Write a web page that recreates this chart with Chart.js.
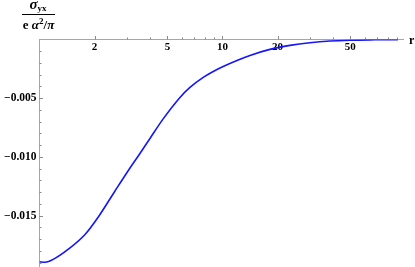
<!DOCTYPE html>
<html>
<head>
<meta charset="utf-8">
<script src="https://cdn.jsdelivr.net/npm/chart.js@4"></script>
<style>
  html, body { margin: 0; padding: 0; background: #fff; }
  #wrap { position: relative; width: 415px; height: 267px; overflow: hidden; }
  .lbl { position: absolute; font-family: "Liberation Serif", serif; font-weight: bold; color: #000; white-space: nowrap; line-height: 1; }
</style>
</head>
<body>
<div id="wrap">
  <canvas id="chart" width="415" height="267"></canvas>
  <div class="lbl" style="left:20px; top:-3px; width:36px; text-align:center; font-size:15px;"><i>σ</i><span style="font-size:9px; position:relative; top:2px;">yx</span></div>
  <div style="position:absolute; left:22px; top:14px; width:33px; height:1px; background:#000;"></div>
  <div class="lbl" style="left:19px; top:18px; width:39px; text-align:center; font-size:13px;">e <i>α</i><span style="font-size:9px; position:relative; top:-5px;">2</span>/<i>π</i></div>
  <div class="lbl" style="left:409px; top:34px; font-size:12px;">r</div>
</div>
<script>
// valeurs (r en échelle log)
const rValues = [1.0, 1.072, 1.215, 1.431, 1.773, 2.114, 2.586, 3.123, 3.541, 4.017, 4.731, 5.859, 6.643, 7.924, 9.331, 12.0, 14.14, 18.18, 23.38, 30.07, 38.68, 49.74, 68.1, 91.0];
const sigmaValues = [-0.018927, -0.018969, -0.018637, -0.017879, -0.016601, -0.015026, -0.012896, -0.010937, -0.009702, -0.008424, -0.006780, -0.004932, -0.004080, -0.003186, -0.002547, -0.001780, -0.001354, -0.000843, -0.000503, -0.000273, -0.000128, -0.000060, -0.000026, -0.000009];

const xMajorTicks = [2, 5, 10, 20, 50];
const xTickLabels = ['2', '5', '10', '20', '50'];
const xMinorTicks = [3, 4, 6, 7, 8, 9, 30, 40, 60, 70, 80, 90];

const yMajorTicks = [-0.015, -0.010, -0.005];
const yTickLabels = ['\u22120.015', '\u22120.010', '\u22120.005'];
const yMinorTicks = [-0.019, -0.018, -0.017, -0.016, -0.014, -0.013, -0.012, -0.011, -0.009, -0.008, -0.007, -0.006, -0.004, -0.003, -0.002, -0.001];

const xFont = { family: 'Liberation Serif', size: 11, weight: 'bold' };
const yFont = { family: 'Liberation Serif', size: 11.5, weight: 'bold' };

// petites graduations façon Mathematica
const tickMarks = {
  id: 'tickMarks',
  beforeDatasetsDraw(chart) {
    const { ctx, scales: { x, y } } = chart;
    const y0 = Math.round(y.getPixelForValue(0)) - 0.5;
    const x0 = Math.round(x.getPixelForValue(1)) - 0.5;
    ctx.save();
    ctx.strokeStyle = '#8a8a8a';
    ctx.lineWidth = 1;
    ctx.beginPath();
    xMajorTicks.forEach(v => {
      const px = Math.round(x.getPixelForValue(v)) + 0.5;
      ctx.moveTo(px, y0); ctx.lineTo(px, y0 - 3.5);
    });
    xMinorTicks.forEach(v => {
      const px = Math.round(x.getPixelForValue(v)) + 0.5;
      ctx.moveTo(px, y0); ctx.lineTo(px, y0 - 2);
    });
    yMajorTicks.forEach(v => {
      const py = Math.round(y.getPixelForValue(v)) + 0.5;
      ctx.moveTo(x0, py); ctx.lineTo(x0 + 3.5, py);
    });
    yMinorTicks.forEach(v => {
      const py = Math.round(y.getPixelForValue(v)) + 0.5;
      ctx.moveTo(x0, py); ctx.lineTo(x0 + 2, py);
    });
    ctx.stroke();
    ctx.restore();
  }
};

const chart = new Chart(document.getElementById('chart'), {
  type: 'line',
  data: {
    datasets: [{
      data: rValues.map((r, i) => ({ x: r, y: sigmaValues[i] })),
      borderColor: '#1414ff',
      borderWidth: 1.6,
      pointRadius: 0,
      fill: false,
      cubicInterpolationMode: 'monotone'
    }]
  },
  options: {
    responsive: false,
    animation: false,
    layout: { padding: { top: 39.5, right: 12, bottom: 0, left: 0 } },
    plugins: { legend: { display: false }, tooltip: { enabled: false } },
    scales: {
      x: {
        type: 'logarithmic',
        min: 1,
        max: 97,
        position: { y: 0 },
        grid: { display: false, drawTicks: false },
        border: { display: true, color: '#a6a6a6', width: 1 },
        afterBuildTicks: s => { s.ticks = xMajorTicks.map(v => ({ value: v })); },
        afterFit: s => { s.paddingLeft = 0; s.paddingRight = 0; },
        ticks: {
          autoSkip: false, maxRotation: 0, padding: 1,
          color: '#000', font: xFont,
          callback: v => xTickLabels[xMajorTicks.indexOf(v)]
        }
      },
      y: {
        type: 'linear',
        min: -0.01937,
        max: 0,
        position: 'left',
        grid: { display: false, drawTicks: false },
        border: { display: true, color: '#a6a6a6', width: 1 },
        afterBuildTicks: s => { s.ticks = yMajorTicks.map(v => ({ value: v })); },
        afterFit: s => { s.width = 39.5; s.paddingTop = 0; s.paddingBottom = 0; },
        ticks: {
          padding: 3,
          color: '#000', font: yFont,
          callback: v => yTickLabels[yMajorTicks.indexOf(v)]
        }
      }
    }
  },
  plugins: [tickMarks]
});
</script>
</body>
</html>
